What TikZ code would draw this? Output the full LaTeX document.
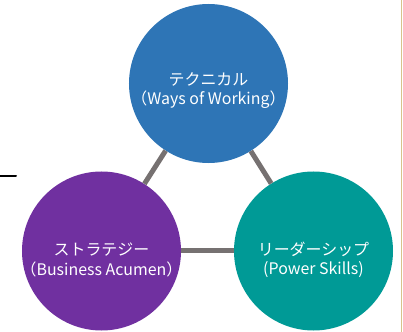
\documentclass[tikz,border=0pt]{standalone}
\usepackage{fontspec}
\newfontfamily\jpfont{Noto Sans CJK JP}
\usetikzlibrary{positioning}
\definecolor{techblue}{HTML}{2E75B6}
\definecolor{stratpurple}{HTML}{7030A0}
\definecolor{leadteal}{HTML}{009A96}
\definecolor{linkgray}{HTML}{767171}
\definecolor{rulegold}{HTML}{D8C38B}
\tikzset{
  skill/.style={circle,minimum size=159bp,inner sep=0pt},
  skilltext/.style={text=white,align=center,inner sep=0pt,
    font=\jpfont\fontsize{16}{19.5}\selectfont},
  link/.style={line width=5bp,color=linkgray,line cap=butt}
}

\begin{document}
\begin{tikzpicture}[line cap=round,line join=round,x=1bp,y=1bp]
\useasboundingbox (0,0) rectangle (403,332);
\node[skill,fill=techblue] (tech) at (208.5,248.5) {};
\node[skill,fill=stratpurple] (strat) at (101.5,81) {};
\node[skill,fill=leadteal] (lead) at (313.5,81) {};
\node[skilltext] (techtext) at ([yshift=-7bp]tech.center) {テクニカル\\（Ways of Working）};
\node[skilltext] (strattext) at ([yshift=-9bp]strat.center) {ストラテジー\\（Business Acumen）};
\node[skilltext] (leadtext) at ([yshift=-9bp]lead.center) {リーダーシップ\\(Power Skills)};
\draw[link] (tech) -- (strat);
\draw[link] (tech) -- (lead);
\draw[link] (strat) -- (lead);
\draw[line width=2bp,color=black] (0,156) -- (16,156);
\draw[line width=1.5bp,color=rulegold] (401.5,0) -- (401.5,332);
\end{tikzpicture}
\end{document}
